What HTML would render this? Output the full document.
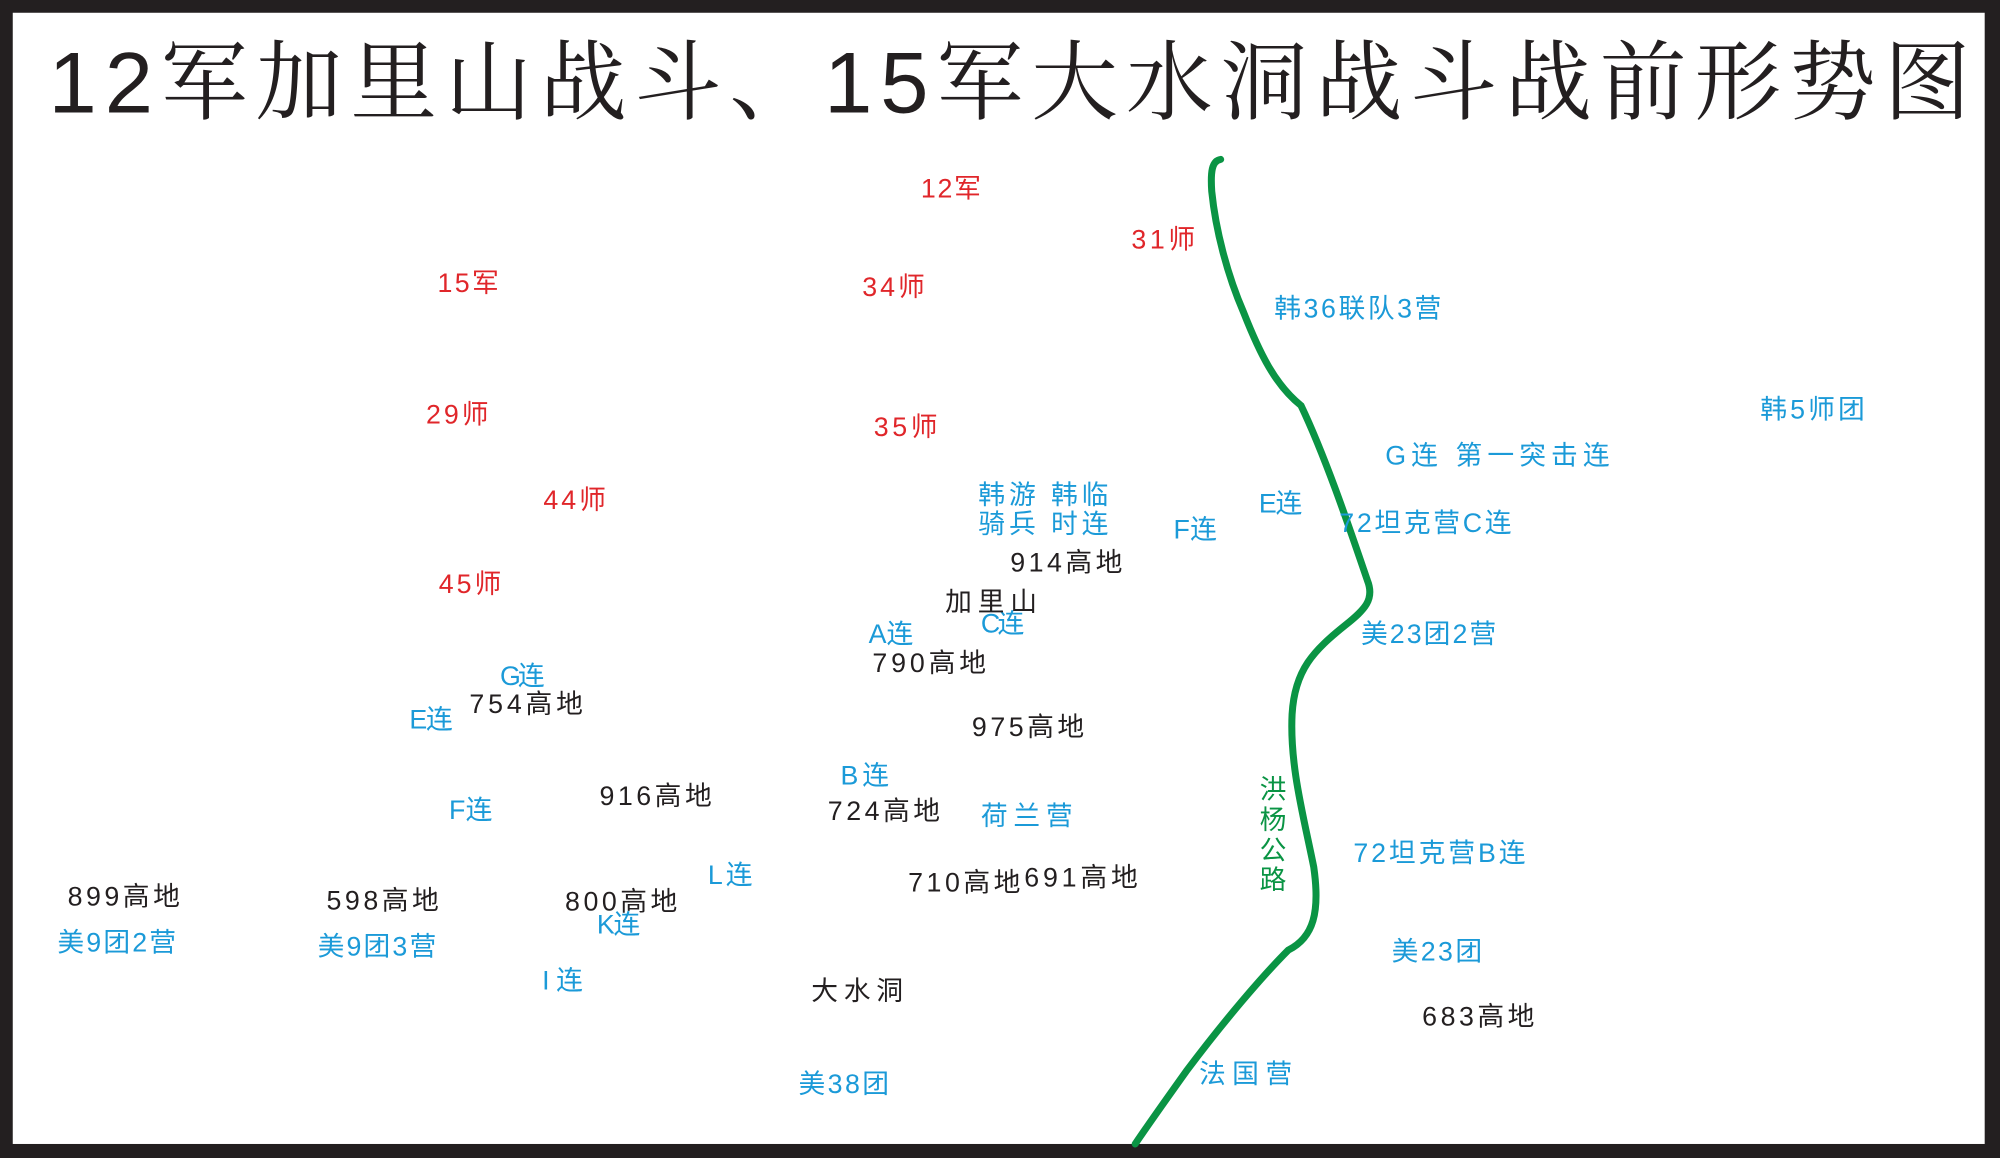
<!DOCTYPE html>
<html><head><meta charset="utf-8"><style>
html,body{margin:0;padding:0;background:#231f20;}
svg{display:block}
text{font-family:"Liberation Sans","Noto Sans CJK SC",sans-serif;font-size:21px;dominant-baseline:central}
.r{fill:#e0262a}.b{fill:#1b9ad8}.k{fill:#231f20}
</style></head><body>
<svg width="2000" height="1158" viewBox="0 0 1568 908" preserveAspectRatio="none" xmlns="http://www.w3.org/2000/svg">
<rect x="0" y="0" width="1568" height="908" fill="#231f20"/>
<rect x="10" y="10" width="1546" height="887" fill="#ffffff"/>
<text x="38" y="65" textLength="1507" lengthAdjust="spacing" style="font-family:'Liberation Sans','Noto Serif CJK SC',serif;font-size:68px;fill:#231f20">12军加里山战斗、15军大水洞战斗战前形势图</text>
<path d="M957,125 C950,126 949,135 950,150 C953,180 962,215 975,245 C988,278 1000,302 1020,318 C1040,360 1060,420 1072,455 C1078,470 1070,478 1055,490 C1030,510 1015,525 1013,560 C1011,600 1022,640 1030,680 C1035,715 1030,735 1010,745 C990,765 960,800 930,840 C910,868 898,885 890,897" fill="none" stroke="#0a9444" stroke-width="5.5" stroke-linecap="round"/>
<g class="r">
<text x="722" y="148" textLength="47">12军</text>
<text x="887" y="188" textLength="50">31师</text>
<text x="343" y="222" textLength="48">15军</text>
<text x="676" y="225" textLength="49">34师</text>
<text x="334" y="325" textLength="49">29师</text>
<text x="685" y="335" textLength="50">35师</text>
<text x="426" y="392" textLength="49">44师</text>
<text x="344" y="458" textLength="49">45师</text>
</g>
<g class="b">
<text x="999" y="242" textLength="131">韩36联队3营</text>
<text x="1380" y="321" textLength="82">韩5师团</text>
<text x="1086" y="357" textLength="176">G连  第一突击连</text>
<text x="767" y="388" textLength="102">韩游 韩临</text>
<text x="767" y="411" textLength="102">骑兵 时连</text>
<text x="987" y="395" textLength="34">E连</text>
<text x="920" y="415" textLength="34">F连</text>
<text x="1050" y="410" textLength="135">72坦克营C连</text>
<text x="1067" y="497" textLength="106">美23团2营</text>
<text x="681" y="497" textLength="35">A连</text>
<text x="769" y="489" textLength="34">C连</text>
<text x="392" y="530" textLength="35">G连</text>
<text x="321" y="564" textLength="34">E连</text>
<text x="659" y="608" textLength="38">B连</text>
<text x="769" y="640" textLength="72">荷兰营</text>
<text x="352" y="635" textLength="34">F连</text>
<text x="1061" y="669" textLength="135">72坦克营B连</text>
<text x="555" y="686" textLength="35">L连</text>
<text x="468" y="725" textLength="34">K连</text>
<text x="45" y="739" textLength="93">美9团2营</text>
<text x="249" y="742" textLength="93">美9团3营</text>
<text x="425" y="769" textLength="32">I连</text>
<text x="1091" y="746" textLength="71">美23团</text>
<text x="940" y="842" textLength="73">法国营</text>
<text x="626" y="850" textLength="71">美38团</text>
</g>
<g class="k">
<text x="792" y="441" textLength="88">914高地</text>
<text x="741" y="472" textLength="72">加里山</text>
<text x="684" y="520" textLength="89">790高地</text>
<text x="368" y="552" textLength="89">754高地</text>
<text x="762" y="570" textLength="88">975高地</text>
<text x="470" y="624" textLength="88">916高地</text>
<text x="649" y="636" textLength="88">724高地</text>
<text x="712" y="692" textLength="88">710高地</text>
<text x="803" y="688" textLength="89">691高地</text>
<text x="53" y="703" textLength="88">899高地</text>
<text x="256" y="706" textLength="88">598高地</text>
<text x="443" y="707" textLength="88">800高地</text>
<text x="636" y="777" textLength="72">大水洞</text>
<text x="1115" y="797" textLength="88">683高地</text>
</g>
<g style="fill:#0a9444">
<text x="998" y="619" text-anchor="middle">洪</text>
<text x="998" y="643" text-anchor="middle">杨</text>
<text x="998" y="667" text-anchor="middle">公</text>
<text x="998" y="690" text-anchor="middle">路</text>
</g>
</svg>
</body></html>
